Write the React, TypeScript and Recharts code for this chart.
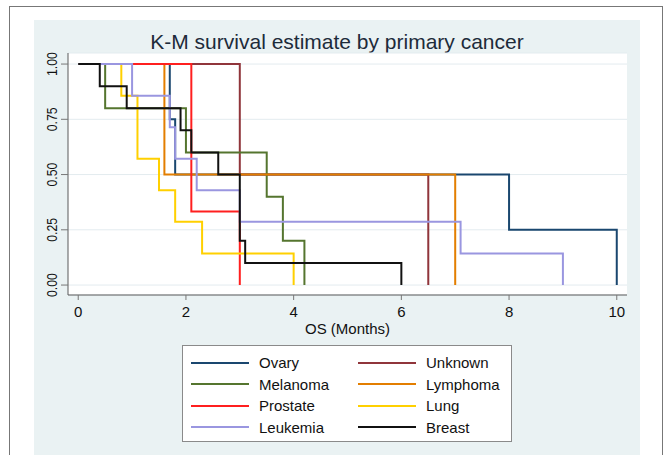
import React from 'react';
import { LineChart, Line, XAxis, YAxis, CartesianGrid, Label } from 'recharts';

// ---- data ----
const xTicks = [0, 2, 4, 6, 8, 10];
const yTicks = [0, 0.25, 0.5, 0.75, 1];

const ovaryT = [0, 1.7, 1.8, 8.0, 10.0];
const ovaryS = [1, 0.75, 0.5, 0.25, 0];

const unknownT = [0, 3.0, 6.5];
const unknownS = [1, 0.5, 0];

const melanomaT = [0, 0.5, 2.0, 3.5, 3.8, 4.2];
const melanomaS = [1, 0.8, 0.6, 0.4, 0.2, 0];

const lymphomaT = [0, 1.6, 7.0];
const lymphomaS = [1, 0.5, 0];

const prostateT = [0, 2.1, 3.0];
const prostateS = [1, 0.333, 0];

const lungT = [0, 0.8, 1.1, 1.5, 1.8, 2.3, 4.0];
const lungS = [1, 0.857, 0.571, 0.429, 0.286, 0.143, 0];

const leukemiaT = [0, 1.0, 1.7, 1.8, 2.2, 3.0, 7.1, 9.0];
const leukemiaS = [1, 0.857, 0.714, 0.571, 0.429, 0.286, 0.143, 0];

const breastT = [0, 0.4, 0.9, 1.9, 2.1, 2.6, 3.0, 3.1, 6.0];
const breastS = [1, 0.9, 0.8, 0.7, 0.6, 0.5, 0.2, 0.1, 0];

const seriesNames = ['Ovary', 'Unknown', 'Melanoma', 'Lymphoma', 'Prostate', 'Lung', 'Leukemia', 'Breast'];
const seriesTimes = [ovaryT, unknownT, melanomaT, lymphomaT, prostateT, lungT, leukemiaT, breastT];
const seriesSurv = [ovaryS, unknownS, melanomaS, lymphomaS, prostateS, lungS, leukemiaS, breastS];
const seriesColors = ['#1a476f', '#90353b', '#55752f', '#e37e00', '#ff1f1f', '#ffd000', '#9a96e0', '#111111'];

const series = seriesNames.map((name, i) => ({
  name,
  color: seriesColors[i],
  data: seriesTimes[i].map((t, j) => ({ t, s: seriesSurv[i][j] })),
}));

const FONT = '"Liberation Sans", Arial, Helvetica, sans-serif';

const YTick = (props: any) => {
  const { x, y, payload } = props;
  return (
    <text
      transform={`translate(${x},${y}) rotate(-90) scale(0.82,1)`}
      textAnchor="middle"
      fontSize={15}
      fill="#111"
      fontFamily={FONT}
    >
      {Number(payload.value).toFixed(2)}
    </text>
  );
};

const XLabel = (props: any) => {
  const vb = props.viewBox || { x: 68, y: 295, width: 559 };
  return (
    <text x={vb.x + vb.width / 2} y={vb.y + 39} textAnchor="middle" fontSize={15} fill="#111" fontFamily={FONT}>
      OS (Months)
    </text>
  );
};

// legend order: row-wise, two columns
const legendLeft = series.filter((_, i) => i % 2 === 0);
const legendRight = series.filter((_, i) => i % 2 === 1);

const LegendRow = ({ name, color }: { name: string; color: string }) => (
  <div style={{ display: 'flex', alignItems: 'center', height: 21.5 }}>
    <div style={{ width: 58, height: 2, background: color, marginLeft: 0 }} />
    <div style={{ marginLeft: 10, fontSize: 15, color: '#111', whiteSpace: 'nowrap' }}>{name}</div>
  </div>
);

export default function App() {
  return (
    <div
      style={{
        position: 'fixed',
        left: 0,
        top: 0,
        width: 665,
        height: 455,
        overflow: 'hidden',
        background: '#fff',
        fontFamily: FONT,
      }}
    >
      {/* outer frame */}
      <div
        style={{
          position: 'absolute',
          left: 9,
          top: 6,
          width: 654,
          height: 470,
          border: '1.5px solid #777',
          boxSizing: 'border-box',
          background: '#fff',
        }}
      />
      {/* graph region panel */}
      <div style={{ position: 'absolute', left: 34, top: 20, width: 606, height: 460, background: '#eaf2f3' }} />
      {/* title */}
      <div
        style={{
          position: 'absolute',
          left: 34,
          top: 31,
          width: 606,
          textAlign: 'center',
          fontSize: 21,
          lineHeight: '21px',
          color: '#1d2b3a',
          whiteSpace: 'nowrap',
        }}
      >
        K-M survival estimate by primary cancer
      </div>

      <div style={{ position: 'absolute', left: 0, top: 0 }}>
        <LineChart width={665} height={455} margin={{ top: 53, right: 38, bottom: 120, left: 28 }}>
          <CartesianGrid horizontal vertical={false} fill="#ffffff" stroke="#e3ecef" strokeWidth={1} />
          <XAxis
            type="number"
            dataKey="t"
            domain={[-0.19, 10.19]}
            ticks={xTicks}
            allowDataOverflow
            height={40}
            tickSize={5}
            tickMargin={6}
            stroke="#5a5a5a"
            tick={{ fontSize: 15, fill: '#111', fontFamily: FONT }}
            tickLine={{ stroke: '#777' }}
          >
            <Label content={<XLabel />} />
          </XAxis>
          <YAxis
            type="number"
            dataKey="s"
            domain={[-0.045, 1.05]}
            ticks={yTicks}
            allowDataOverflow
            width={40}
            tickSize={7}
            tickMargin={4}
            stroke="#5a5a5a"
            tick={<YTick />}
            tickLine={{ stroke: '#777' }}
          />
          {series.map((s) => (
            <Line
              key={s.name}
              data={s.data}
              dataKey="s"
              name={s.name}
              type="stepAfter"
              stroke={s.color}
              strokeWidth={2}
              dot={false}
              activeDot={false}
              isAnimationActive={false}
            />
          ))}
        </LineChart>
      </div>

      {/* legend */}
      <div
        style={{
          position: 'absolute',
          left: 182,
          top: 345,
          width: 330,
          height: 97,
          boxSizing: 'border-box',
          border: '1px solid #8a8a8a',
          background: '#fff',
        }}
      >
        <div style={{ position: 'absolute', left: 8, top: 6 }}>
          {legendLeft.map((s) => (
            <LegendRow key={s.name} name={s.name} color={s.color} />
          ))}
        </div>
        <div style={{ position: 'absolute', left: 175, top: 6 }}>
          {legendRight.map((s) => (
            <LegendRow key={s.name} name={s.name} color={s.color} />
          ))}
        </div>
      </div>
    </div>
  );
}
